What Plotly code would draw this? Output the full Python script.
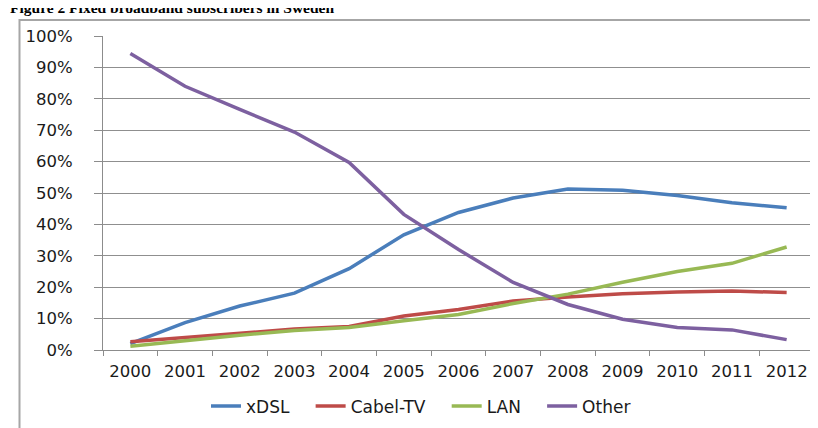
import plotly.graph_objects as go

years = ["2000", "2001", "2002", "2003", "2004", "2005", "2006",
         "2007", "2008", "2009", "2010", "2011", "2012"]
xdsl = [0.020, 0.087, 0.140, 0.181, 0.259, 0.367, 0.438, 0.484, 0.513, 0.509, 0.492, 0.469, 0.453]
cabel_tv = [0.026, 0.039, 0.052, 0.067, 0.075, 0.108, 0.129, 0.156, 0.169, 0.179, 0.185, 0.188, 0.183]
lan = [0.012, 0.030, 0.047, 0.062, 0.072, 0.093, 0.113, 0.148, 0.178, 0.216, 0.250, 0.276, 0.328]
other = [0.944, 0.840, 0.766, 0.694, 0.597, 0.432, 0.320, 0.215, 0.145, 0.098, 0.072, 0.064, 0.033]

series = [
    ("xDSL", xdsl, "#4A7EBB"),
    ("Cabel-TV", cabel_tv, "#BE4B48"),
    ("LAN", lan, "#98B954"),
    ("Other", other, "#7D60A0"),
]

NB = "\u00a0" * 3  # extra spacing between legend entries

fig = go.Figure()
for i, (name, vals, col) in enumerate(series):
    label = name + (NB if i < len(series) - 1 else "")
    fig.add_trace(go.Scatter(x=years, y=vals, mode="lines", name=label,
                             line=dict(color=col, width=3.5)))

W, H = 818, 428
L, R, T, B = 95, 12, 28, 78
pw, ph = W - L - R, H - T - B

def px(x):
    return (x - L) / pw

def py(y):
    return (H - B - y) / ph

fig.update_layout(
    width=W, height=H,
    margin=dict(l=L, r=R, t=T, b=B, pad=0),
    paper_bgcolor="white", plot_bgcolor="white",
    font=dict(family="DejaVu Sans", size=17, color="#1a1a1a"),
    showlegend=True,
    legend=dict(orientation="h", x=px(413), xanchor="center",
                y=py(408), yanchor="middle",
                font=dict(size=17, family="DejaVu Sans", color="#1a1a1a"),
                bgcolor="rgba(0,0,0,0)"),
    xaxis=dict(type="category", range=[-0.5, 12.5], showgrid=False,
               showline=True, linecolor="#8c8c8c", linewidth=1,
               ticks="outside", tickson="boundaries", ticklen=5,
               tickcolor="#8c8c8c", tickfont=dict(size=16.5),
               ticklabelstandoff=6),
    yaxis=dict(range=[0, 1], dtick=0.1, tickformat=".0%",
               showgrid=True, gridcolor="#8f8f8f", gridwidth=1,
               showline=True, linecolor="#8c8c8c", linewidth=1,
               ticks="outside", ticklen=8, tickcolor="#8c8c8c",
               zeroline=False, tickfont=dict(size=16.5),
               ticklabelstandoff=18),
)

# outer chart border (extends beyond the visible picture on right/bottom)
fig.add_shape(type="rect", xref="paper", yref="paper",
              x0=px(11.5), x1=px(830), y0=py(440), y1=py(11.5),
              line=dict(color="#a6a6a6", width=2), layer="below")

# figure caption, partly cut by the top of the picture
fig.add_annotation(text="<b>Figure 2 Fixed broadband subscribers in Sweden</b>",
                   xref="paper", yref="paper", x=px(0), xanchor="left",
                   y=py(-1.5), yanchor="middle", showarrow=False,
                   font=dict(family="Liberation Serif", size=15.5, color="#000000"))

fig.write_html("out.html")
